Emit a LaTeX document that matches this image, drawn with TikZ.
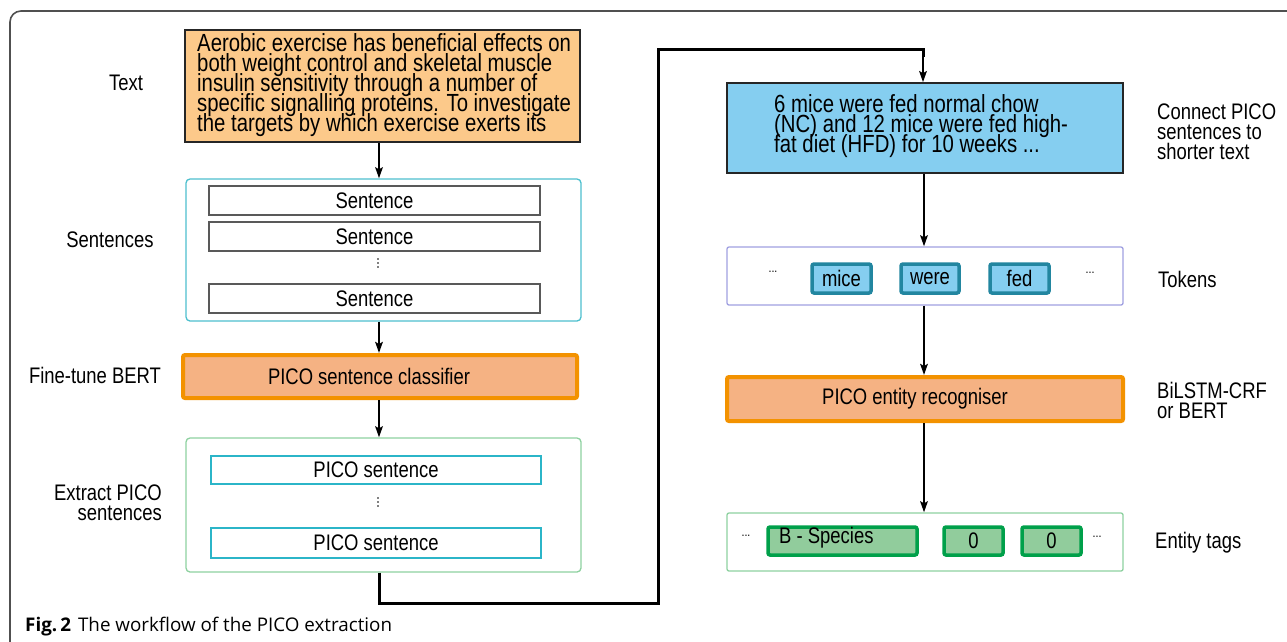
\documentclass[tikz,border=0pt]{standalone}
\usepackage{fontspec}
\setmainfont{Liberation Sans}
\newfontfamily\narrowfont[FakeStretch=0.82]{Liberation Sans}
\newfontfamily\capfont{Open Sans}
\usetikzlibrary{arrows.meta}
\definecolor{textfill}{RGB}{252,201,138}
\definecolor{orgfill}{RGB}{245,178,131}
\definecolor{orgline}{RGB}{243,146,0}
\definecolor{bluefill}{RGB}{133,206,240}
\definecolor{tokline}{RGB}{34,134,160}
\definecolor{cyanline}{RGB}{77,192,206}
\definecolor{picoline}{RGB}{43,181,200}
\definecolor{lgreen}{RGB}{142,209,160}
\definecolor{purpline}{RGB}{160,160,225}
\definecolor{tagfill}{RGB}{145,204,156}
\definecolor{tagline}{RGB}{0,160,74}
\definecolor{framegray}{RGB}{80,80,80}
\tikzset{
  every node/.style={font=\narrowfont\fontsize{22.5}{20}\selectfont, inner sep=0pt},
  bigtxt/.style={font=\narrowfont\fontsize{24.8}{20}\selectfont},
  arr/.style={line width=2.8pt, -{Stealth[length=11pt,width=7.5pt,inset=2pt]}},
  conn/.style={line width=3pt},
  textbox/.style={draw=black!85, line width=1.6pt, fill=textfill, minimum width=395pt, minimum height=112pt},
  groupbox/.style={draw=#1, line width=1.3pt, rounded corners=4pt, minimum width=395pt},
  sentbox/.style={draw=black!65, line width=1.3pt, minimum width=331pt, minimum height=29pt},
  picobox/.style={draw=picoline, line width=1.5pt, minimum width=330pt},
  modelbox/.style={draw=orgline, fill=orgfill, line width=4pt, rounded corners=2pt, minimum height=43pt},
  tokbox/.style={draw=tokline, fill=bluefill, line width=3.5pt, rounded corners=2pt, minimum height=29pt},
  tagbox/.style={draw=tagline, fill=tagfill, line width=3.5pt, rounded corners=2pt, minimum height=28pt},
  sidelbl/.style={align=left, anchor=west},
  leftlbl/.style={align=right},
  dots/.style={font=\narrowfont\fontsize{13}{13}\selectfont},
}
\newcommand{\vdotsat}[2]{\foreach \k in {-4,0,4} {\fill (#1,#2+\k) circle (0.9pt);}}
\begin{document}
\setlength{\lineskiplimit}{-50pt}
\setlength{\lineskip}{0pt}
\begin{tikzpicture}[x=1pt,y=-1pt]
\useasboundingbox (0,0) rectangle (1287,641);
\fill[white] (0,0) rectangle (1287,641);
% frame
\draw[framegray, line width=1.6pt, rounded corners=11pt] (10,660) -- (10,11) -- (1300,11);

% left column
\coordinate (cl) at (379,0);
\node[textbox] (tb) at (382.5,86) {};
\node[bigtxt, align=left, anchor=west] (tbt) at (197,85)
  {Aerobic exercise has beneficial effects on\\both weight control and skeletal muscle\\insulin sensitivity through a number of\\specific signalling proteins. To investigate\\the targets by which exercise exerts its};
\node (ltext) at (126,83) {Text};

\node[groupbox=cyanline, minimum height=142pt] (sg) at (383.5,250) {};
\node[sentbox] (s1) at (374.5,200.5) {Sentence};
\node[sentbox] (s2) at (374.5,236.5) {Sentence};
\vdotsat{378}{263}
\node[sentbox] (s3) at (374.5,298.5) {Sentence};
\node (lsent) at (110,240) {Sentences};

\node[modelbox, minimum width=394pt] (cls) at (380,376.5) {\hspace{-22pt}PICO sentence classifier};
\node (lbert) at (95,375) {Fine-tune BERT};

\node[groupbox=lgreen, minimum height=134pt] (eg) at (383.5,505) {};
\node[picobox, minimum height=28pt] (p1) at (376,470) {PICO sentence};
\vdotsat{378}{502}
\node[picobox, minimum height=30pt] (p2) at (376,543) {PICO sentence};
\node[leftlbl, anchor=east] (lext) at (162,503) {Extract PICO\\sentences};

\draw[arr] (tb.south -| cl) -- (sg.north -| cl);
\draw[arr] (sg.south -| cl) -- (cls.north -| cl);
\draw[arr] (cls.south -| cl) -- (eg.north -| cl);

% right column
\coordinate (cr) at (924,0);
\node[draw=black!85, line width=1.6pt, fill=bluefill, minimum width=396pt, minimum height=90pt] (bb) at (925,128) {};
\node[bigtxt, align=left, anchor=west] (bt) at (774,126)
  {6 mice were fed normal chow\\(NC) and 12 mice were fed high-\\fat diet (HFD) for 10 weeks ...};
\node[sidelbl] (lconn) at (1157,132) {Connect PICO\\sentences to\\shorter text};

\node[draw=purpline, line width=1.3pt, rounded corners=2pt, minimum width=396pt, minimum height=58pt] (tg) at (925,276) {};
\node[dots] (td1) at (773,272) {...};
\node[tokbox, minimum width=59pt] (tk1) at (841.5,278.5) {mice};
\node[tokbox, minimum width=58pt] (tk2) at (930,278.5) {were};
\node[tokbox, minimum width=59pt] (tk3) at (1019.5,278.5) {\raisebox{-2pt}{fed}};
\node[dots] (td2) at (1090,273) {...};
\node[sidelbl] (ltok) at (1158,279) {Tokens};

\node[modelbox, minimum width=396pt, minimum height=44pt] (rec) at (925,399) {\hspace{-20pt}PICO entity recogniser};
\node[sidelbl] (lbil) at (1157,400) {BiLSTM-CRF\\or BERT};

\node[draw=lgreen, line width=1.3pt, rounded corners=2pt, minimum width=396pt, minimum height=58pt] (eng) at (925,542) {};
\node[dots] (ed1) at (746,536) {...};
\node[tagbox, minimum width=149pt] (tg1) at (842.5,541) {};
\node[anchor=west] (tg1t) at (779,538) {B - Species};
\node[tagbox, minimum width=59pt] (tg2) at (973.5,541) {\raisebox{-3pt}{0}};
\node[tagbox, minimum width=59pt] (tg3) at (1051.5,541) {\raisebox{-3pt}{0}};
\node[dots] (ed2) at (1097,537) {...};
\node[sidelbl] (lent) at (1155,543) {Entity tags};

\coordinate (j1) at (379,603);
\coordinate (j2) at (658,603);
\coordinate (j3) at (658,49);
\coordinate (j4) at (923,49);
\draw[conn, line join=miter] (eg.south -| cl) -- (j1) -- (j2) -- (j3) -- (j4) -- ++(0,8);
\draw[arr] (j4) -- (bb.north -| j4);
\draw[arr] (bb.south -| cr) -- (tg.north -| cr);
\draw[arr] (tg.south -| cr) -- (rec.north -| cr);
\draw[arr] (rec.south -| cr) -- (eng.north -| cr);

% caption
\node[anchor=base west, font=\capfont\fontsize{18.8}{20}\selectfont] (cap) at (25,631)
  {\textbf{Fig.\,2}\hspace{7pt}The workflow of the PICO extraction};
\end{tikzpicture}
\end{document}
